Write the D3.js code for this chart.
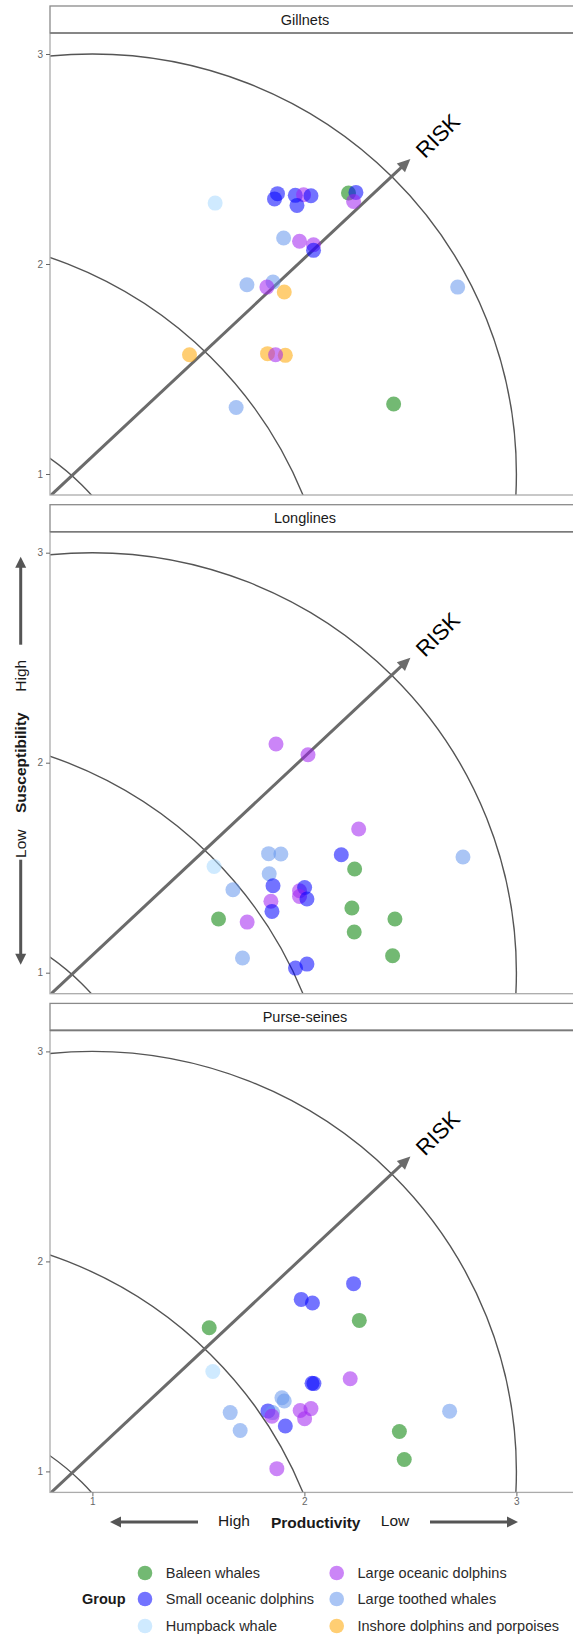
<!DOCTYPE html>
<html>
<head>
<meta charset="utf-8">
<script src="https://cdn.jsdelivr.net/npm/d3@7"></script>
<style>
  body { margin: 0; background: #fff; }
  svg text { font-family: "Liberation Sans", Arial, sans-serif; }
</style>
</head>
<body>
<svg id="chart"></svg>
<script>
// Groups and their colours (drawn semi-transparent)
const groupKeys = ["B", "S", "H", "L", "T", "I"];
const groupNames = [
  "Baleen whales",
  "Small oceanic dolphins",
  "Humpback whale",
  "Large oceanic dolphins",
  "Large toothed whales",
  "Inshore dolphins and porpoises",
];
const groupColors = ["#008000", "#0000ff", "#a8d8ff", "#a020f0", "#6495ed", "#ffa500"];

const fisheries = ["Gillnets", "Longlines", "Purse-seines"];

// [group, productivity, susceptibility]
const gillnets = [
  ["H", 1.579, 2.290], ["S", 1.873, 2.335], ["S", 1.859, 2.310], ["S", 1.957, 2.327],
  ["L", 1.996, 2.330], ["S", 2.031, 2.325], ["S", 1.965, 2.279], ["B", 2.208, 2.338],
  ["S", 2.243, 2.341], ["L", 2.232, 2.298], ["T", 1.902, 2.124], ["L", 1.977, 2.108],
  ["L", 2.043, 2.092], ["S", 2.043, 2.065], ["T", 1.729, 1.901], ["T", 1.852, 1.914],
  ["L", 1.823, 1.890], ["I", 1.905, 1.867], ["T", 2.723, 1.890], ["I", 1.458, 1.568],
  ["I", 1.826, 1.573], ["I", 1.910, 1.565], ["L", 1.864, 1.568], ["T", 1.678, 1.317],
  ["B", 2.421, 1.333],
];

const longlines = [
  ["L", 1.866, 2.089], ["L", 2.017, 2.038], ["L", 2.256, 1.684], ["T", 1.831, 1.567],
  ["T", 1.889, 1.565], ["S", 2.174, 1.562], ["T", 2.748, 1.551], ["H", 1.574, 1.506],
  ["B", 2.237, 1.494], ["T", 1.834, 1.471], ["S", 1.852, 1.414], ["T", 1.663, 1.395],
  ["L", 1.977, 1.390], ["S", 2.001, 1.406], ["L", 1.977, 1.363], ["S", 2.012, 1.351],
  ["L", 1.842, 1.340], ["S", 1.847, 1.292], ["B", 2.224, 1.308], ["B", 1.595, 1.256],
  ["L", 1.730, 1.241], ["B", 2.427, 1.256], ["B", 2.235, 1.194], ["T", 1.708, 1.070],
  ["B", 2.416, 1.081], ["S", 1.958, 1.022], ["S", 2.012, 1.041],
];

const purseSeines = [
  ["S", 2.232, 1.894], ["S", 1.985, 1.819], ["S", 2.038, 1.802], ["B", 1.551, 1.684],
  ["B", 2.259, 1.719], ["H", 1.568, 1.476], ["S", 2.036, 1.420], ["S", 2.045, 1.418],
  ["L", 2.216, 1.441], ["T", 1.894, 1.351], ["T", 1.905, 1.335], ["T", 1.650, 1.280],
  ["S", 1.828, 1.288], ["T", 1.850, 1.280], ["L", 1.847, 1.263], ["L", 1.980, 1.290],
  ["L", 2.031, 1.299], ["L", 2.001, 1.251], ["S", 1.910, 1.216], ["T", 1.697, 1.195],
  ["T", 2.685, 1.287], ["B", 2.448, 1.190], ["B", 2.471, 1.057], ["L", 1.870, 1.013],
];

const panelData = [gillnets, longlines, purseSeines];
const ticks = [1, 2, 3];

// reference curves: [cx, cy, r] in data units, and the risk arrow
const riskArcs = [[1, 1, 2], [0.15, 0.15, 1.99], [0.15, 0.15, 1.13]];
const riskArrow = [[0.7, 0.8], [2.5, 2.5]];
const riskLabelAt = [2.63, 2.61];

const W = 573, H = 1638;
const plotLeft = 50, plotRight = 580;
const firstTop = 6, pitch = 498.7, stripH = 27, plotH = 462;

const svg = d3.select("#chart").attr("width", W).attr("height", H);
const color = d3.scaleOrdinal().domain(groupKeys).range(groupColors);
const x = d3.scaleLinear().domain([0.8, 3.3]).range([plotLeft, plotRight]);

/**
 * Draw a line with a closed arrow head at (x2, y2)
 */
function arrow(g, x1, y1, x2, y2, opts) {
  const { len, half, width, stroke } = opts;
  const a = Math.atan2(y2 - y1, x2 - x1);
  const bx = x2 - len * Math.cos(a), by = y2 - len * Math.sin(a);
  g.append("line")
    .attr("x1", x1).attr("y1", y1)
    .attr("x2", bx + Math.cos(a)).attr("y2", by + Math.sin(a))
    .attr("stroke", stroke).attr("stroke-width", width);
  const px = -Math.sin(a) * half, py = Math.cos(a) * half;
  g.append("path")
    .attr("d", `M${x2},${y2}L${bx + px},${by + py}L${bx - px},${by - py}Z`)
    .attr("fill", stroke);
}

fisheries.forEach((name, i) => {
  const top = firstTop + i * pitch + stripH;
  const bottom = top + plotH;
  const y = d3.scaleLinear().domain([0.9, 3.1]).range([bottom, top]);
  const panel = svg.append("g");

  // strip
  panel.append("rect")
    .attr("x", plotLeft).attr("y", top - stripH)
    .attr("width", plotRight - plotLeft + 10).attr("height", stripH)
    .attr("fill", "#fff").attr("stroke", "#8a8a8a").attr("stroke-width", 1.3);
  panel.append("text")
    .attr("x", (plotLeft + plotRight) / 2 - 10).attr("y", top - stripH / 2)
    .attr("text-anchor", "middle").attr("dominant-baseline", "central")
    .attr("font-size", 14.5).attr("fill", "#1a1a1a")
    .text(name);

  const clipId = "clip" + i;
  svg.append("clipPath").attr("id", clipId)
    .append("rect")
    .attr("x", plotLeft).attr("y", top)
    .attr("width", plotRight - plotLeft).attr("height", plotH);

  const inner = panel.append("g").attr("clip-path", `url(#${clipId})`);

  inner.selectAll("ellipse")
    .data(riskArcs)
    .join("ellipse")
    .attr("cx", (d) => x(d[0]))
    .attr("cy", (d) => y(d[1]))
    .attr("rx", (d) => x(d[0] + d[2]) - x(d[0]))
    .attr("ry", (d) => y(d[1]) - y(d[1] + d[2]))
    .attr("fill", "none")
    .attr("stroke", "#555")
    .attr("stroke-width", 1.4);

  arrow(inner,
    x(riskArrow[0][0]), y(riskArrow[0][1]),
    x(riskArrow[1][0]), y(riskArrow[1][1]),
    { len: 13, half: 6, width: 3, stroke: "#6b6b6b" });

  inner.selectAll("circle")
    .data(panelData[i])
    .join("circle")
    .attr("cx", (d) => x(d[1]))
    .attr("cy", (d) => y(d[2]))
    .attr("r", 7.5)
    .attr("fill", (d) => color(d[0]))
    .attr("fill-opacity", 0.55);

  panel.append("text")
    .attr("transform", `translate(${x(riskLabelAt[0])},${y(riskLabelAt[1])}) rotate(-45)`)
    .attr("text-anchor", "middle").attr("dominant-baseline", "central")
    .attr("font-size", 22).attr("fill", "#000")
    .text("RISK");

  // panel border
  panel.append("rect")
    .attr("x", plotLeft).attr("y", top)
    .attr("width", plotRight - plotLeft + 10).attr("height", plotH)
    .attr("fill", "none").attr("stroke", "#ababab").attr("stroke-width", 1.3);
  panel.append("line")
    .attr("x1", plotLeft).attr("x2", plotRight + 10)
    .attr("y1", top).attr("y2", top)
    .attr("stroke", "#7a7a7a").attr("stroke-width", 1.6);

  // y axis
  const yAxis = panel.append("g").attr("transform", `translate(${plotLeft},0)`)
    .call(d3.axisLeft(y).tickValues(ticks).tickSize(4).tickPadding(3).tickFormat(d3.format("d")));
  yAxis.select(".domain").remove();
  yAxis.selectAll("line").attr("stroke", "#666");
  yAxis.selectAll("text").attr("fill", "#666").attr("font-size", 10)
    .attr("font-family", "Liberation Sans, Arial, sans-serif");

  if (i === fisheries.length - 1) {
    const xAxis = panel.append("g").attr("transform", `translate(0,${bottom})`)
      .call(d3.axisBottom(x).tickValues(ticks).tickSize(4).tickPadding(2).tickFormat(d3.format("d")));
    xAxis.select(".domain").remove();
    xAxis.selectAll("line").attr("stroke", "#666");
    xAxis.selectAll("text").attr("fill", "#666").attr("font-size", 10)
      .attr("font-family", "Liberation Sans, Arial, sans-serif");
  }

  if (i === 1) {
    // y axis title with direction arrows
    const mid = (top + bottom) / 2;
    const yl = svg.append("g").attr("transform", `translate(20.7,${mid}) rotate(-90)`);
    yl.append("text").attr("x", 0).attr("y", 0)
      .attr("text-anchor", "middle").attr("dominant-baseline", "central")
      .attr("font-size", 15.5).attr("font-weight", "bold").attr("fill", "#1a1a1a")
      .text("Susceptibility");
    yl.append("text").attr("x", 87).attr("y", 0)
      .attr("text-anchor", "middle").attr("dominant-baseline", "central")
      .attr("font-size", 15.5).attr("fill", "#1a1a1a").text("High");
    yl.append("text").attr("x", -81).attr("y", 0)
      .attr("text-anchor", "middle").attr("dominant-baseline", "central")
      .attr("font-size", 15.5).attr("fill", "#1a1a1a").text("Low");
    arrow(yl, 118, 0, 206, 0, { len: 11, half: 5.5, width: 3, stroke: "#555" });
    arrow(yl, -97, 0, -202, 0, { len: 11, half: 5.5, width: 3, stroke: "#555" });
  }
});

// x axis title with direction arrows
const xl = svg.append("g");
xl.append("text").attr("x", 315.7).attr("y", 1528.4)
  .attr("text-anchor", "middle").attr("font-size", 15.5).attr("font-weight", "bold")
  .attr("fill", "#1a1a1a").text("Productivity");
xl.append("text").attr("x", 234).attr("y", 1525.5)
  .attr("text-anchor", "middle").attr("font-size", 15.5).attr("fill", "#1a1a1a").text("High");
xl.append("text").attr("x", 395).attr("y", 1525.5)
  .attr("text-anchor", "middle").attr("font-size", 15.5).attr("fill", "#1a1a1a").text("Low");
arrow(xl, 198, 1522, 110, 1522, { len: 11, half: 5.5, width: 3, stroke: "#555" });
arrow(xl, 430, 1522, 518, 1522, { len: 11, half: 5.5, width: 3, stroke: "#555" });

// legend
const legend = svg.append("g");
legend.append("text").attr("x", 82).attr("y", 1599)
  .attr("dominant-baseline", "central").attr("font-size", 14.5).attr("font-weight", "bold")
  .attr("fill", "#1a1a1a").text("Group");
const rowsY = [1573, 1599, 1626];
const colsX = [145, 336.7];
const item = legend.selectAll("g.item")
  .data(groupKeys)
  .join("g")
  .attr("class", "item")
  .attr("transform", (d, k) => `translate(${colsX[Math.floor(k / 3)]},${rowsY[k % 3]})`);
item.append("circle").attr("r", 7.3)
  .attr("fill", (d) => color(d)).attr("fill-opacity", 0.55);
item.append("text").attr("x", 20.8).attr("y", 0)
  .attr("dominant-baseline", "central").attr("font-size", 14.5).attr("fill", "#2a2a2a")
  .text((d, k) => groupNames[k]);
</script>
</body>
</html>
